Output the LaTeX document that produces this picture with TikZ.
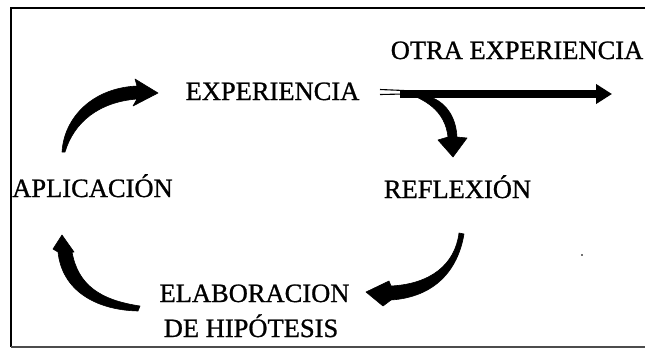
\documentclass[tikz,border=0pt]{standalone}
\usepackage{fontspec}
\setmainfont{Liberation Serif}[FakeBold=1.2]
\newfontfamily\heavyserif{Liberation Serif}[FakeBold=0.9]
\usetikzlibrary{arrows.meta}
\begin{document}
\begin{tikzpicture}[x=1pt,y=-1pt,
  lbl/.style={inner sep=0pt, anchor=base, font=\heavyserif\fontsize{26.5}{30}\selectfont},
  brush/.style={fill=black, draw=black, line width=0.6pt, line join=round},
  thinline/.style={line width=1.1pt}]
\useasboundingbox (0,0) rectangle (645,349);
\fill[white] (0,0) rectangle (645,349);
% frame
\draw[line width=1.6pt] (645,8) -- (11,8) -- (11,347);
\draw[line width=1.4pt, black!70] (11,347) -- (645,347);
% labels
\node[lbl] (otra) at (517,59) {OTRA EXPERIENCIA};
\node[lbl] (exp) at (272.5,100) {EXPERIENCIA};
\node[lbl] (apl) at (92.5,197) {APLICACIÓN};
\node[lbl] (ref) at (457.5,198) {REFLEXIÓN};
\node[lbl] (ela) at (254.5,302) {ELABORACION};
\node[lbl] (hip) at (251,337) {DE HIPÓTESIS};
% named ends of the arrows
\coordinate (bstart) at (400,94);
\coordinate (bend) at (612,94);
% EXPERIENCIA -> OTRA EXPERIENCIA
\draw[thinline] (380,89.5) -- (404,90.5);
\draw[thinline] (380,94.5) -- (404,94);
\draw[line width=8.5pt, -{Triangle[length=16pt,width=19pt]}] (bstart) -- (bend);
% EXPERIENCIA -> REFLEXION
\filldraw[brush] (401,91) .. controls (425,99) and (445,110) .. (448,137)
  -- (438,140) -- (453,157) -- (467,138) -- (457,137)
  .. controls (456,118) and (447,104) .. (433,98) -- cycle;
% REFLEXION -> ELABORACION
\filldraw[brush] (459,233) .. controls (455,265) and (430,284) .. (391,286)
  -- (389,281) -- (366,292) -- (383,306) -- (391,300)
  .. controls (435,297) and (458,270) .. (464,234) -- cycle;
% ELABORACION -> APLICACION
\filldraw[brush] (140,306) .. controls (100,300) and (78,285) .. (72,252)
  -- (74,252) -- (62,235) -- (53,249) -- (58,252)
  .. controls (62,290) and (95,310) .. (138,311) -- cycle;
% APLICACION -> EXPERIENCIA
\filldraw[brush] (62,152) .. controls (64,118) and (92,88) .. (137,86)
  -- (135,79) -- (158,93) -- (133,106) -- (137,99)
  .. controls (99,102) and (74,122) .. (65,152) -- cycle;
% stray dot
\fill[black!55] (581,254) rectangle (583,256);
\end{tikzpicture}
\end{document}
